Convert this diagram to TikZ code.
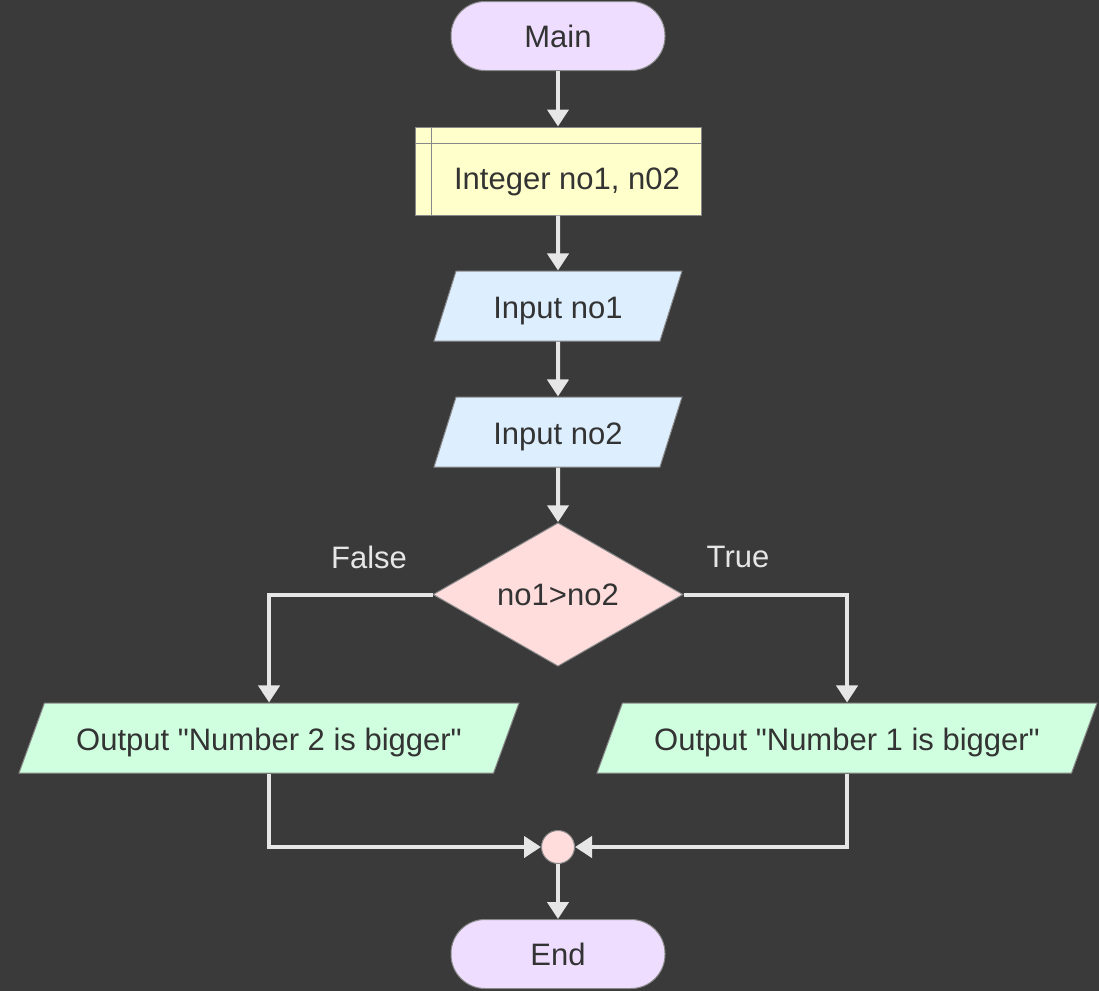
\documentclass[tikz,border=0pt]{standalone}
\usepackage{fontspec}
\setmainfont{Liberation Sans}
\usetikzlibrary{positioning, calc, shapes.geometric, arrows.meta}
\definecolor{bgcol}{HTML}{3A3A3A}
\definecolor{linecol}{HTML}{E6E6E6}
\definecolor{bordercol}{HTML}{888888}
\definecolor{textcol}{HTML}{333333}
\definecolor{termcol}{HTML}{EEDDFF}
\definecolor{declcol}{HTML}{FFFFCC}
\definecolor{inputcol}{HTML}{DDEEFF}
\definecolor{decicol}{HTML}{FFDDDD}
\definecolor{outcol}{HTML}{D0FFE0}
\tikzstyle{Arrow} = [
line width=2pt, draw=linecol,
-{Triangle[width=10.5pt,length=8.5pt]}]
\tikzstyle{Shape} = [draw=bordercol, line width=0.5pt, inner sep=0pt]
\tikzstyle{Terminal} = [Shape, rectangle, rounded corners=17pt,
fill=termcol, minimum width=107pt, minimum height=34.5pt]
\tikzstyle{Decl} = [Shape, rectangle, fill=declcol,
minimum width=143pt, minimum height=44pt]
\tikzstyle{InOut} = [Shape, trapezium, trapezium stretches body=true,
inner ysep=11.5pt, text height=12pt, text depth=0pt]
\tikzstyle{Decision} = [Shape, diamond, fill=decicol,
minimum width=125pt, minimum height=70.5pt]
\tikzstyle{Branch} = [text=linecol]

\begin{document}
\begin{tikzpicture}[x=0.5pt, y=-0.5pt, font=\fontsize{15.5}{18}\selectfont, text=textcol]
    \fill[bgcol] (0,0) rectangle (1099,991);
    \useasboundingbox (0,0) rectangle (1099,991);
    \node[Terminal] (main) at (558,36) {Main};
    \node[Decl] (decl) at (558,171) {};
    \draw[bordercol, line width=0.5pt] ([xshift=8.5pt]decl.north west) -- ([xshift=8.5pt]decl.south west);
    \draw[bordercol, line width=0.5pt] ([yshift=-8.5pt]decl.north west) -- ([yshift=-8.5pt]decl.north east);
    \node (decltext) at (567,182) {Integer no1, n02};
    \node[InOut, fill=inputcol, minimum width=124pt,
      trapezium left angle=72.5, trapezium right angle=107.5] (in1) at (558,306) {Input no1};
    \node[InOut, fill=inputcol, minimum width=124pt,
      trapezium left angle=72.5, trapezium right angle=107.5] (in2) at (558,432) {Input no2};
    \node[Decision] (test) at (558,594.5) {no1>no2};
    \node[Branch] (false) at (369,557) {False};
    \node[Branch] (true) at (738,557) {True};
    \node[InOut, fill=outcol, minimum width=250pt,
      trapezium left angle=70, trapezium right angle=110] (out2) at (269,738) {Output \textquotedbl Number 2 is bigger\textquotedbl};
    \node[InOut, fill=outcol, minimum width=250pt,
      trapezium left angle=70, trapezium right angle=110] (out1) at (847,738) {Output \textquotedbl Number 1 is bigger\textquotedbl};
    \node[Shape, circle, fill=decicol, minimum size=16.5pt] (join) at (558,847) {};
    \node[Terminal] (end) at (558,954) {End};
    \draw[Arrow] (main) to (decl);
    \draw[Arrow] (decl) to (in1);
    \draw[Arrow] (in1) to (in2);
    \draw[Arrow] (in2) to (test);
    \draw[Arrow] (test.west) -| (out2.north);
    \draw[Arrow] (test.east) -| (out1.north);
    \draw[Arrow] (out2.south) |- (join.west);
    \draw[Arrow] (out1.south) |- (join.east);
    \draw[Arrow] (join) to (end);
\end{tikzpicture}
\end{document}
